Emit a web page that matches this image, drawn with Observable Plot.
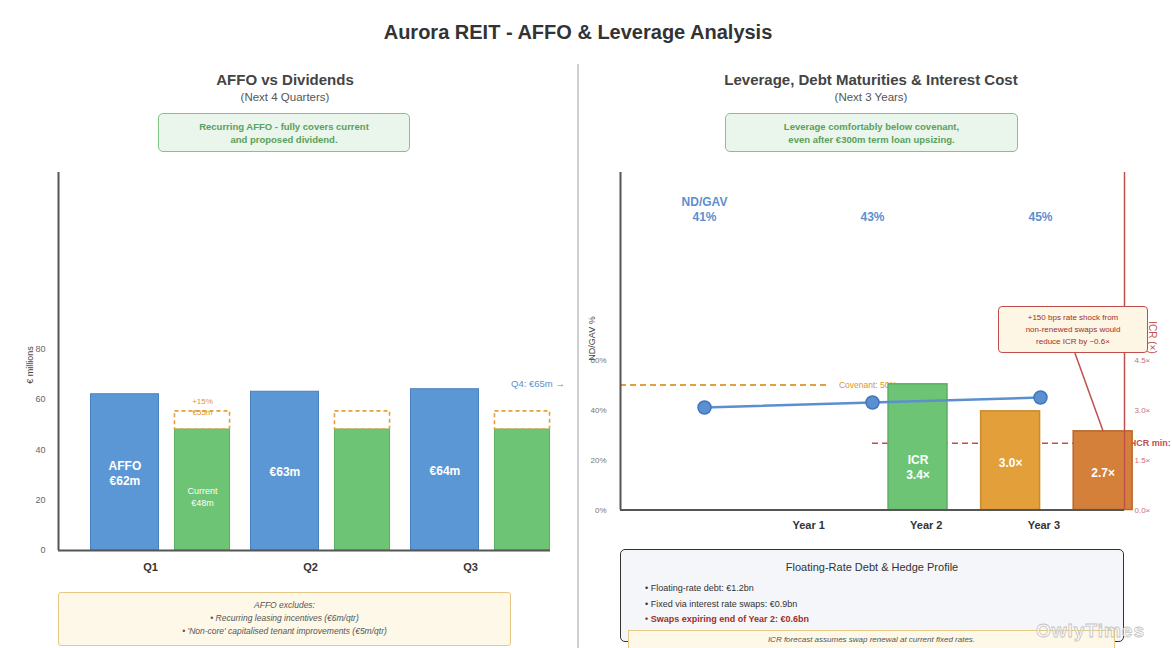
<!DOCTYPE html>
<html><head><meta charset="utf-8">
<script src="https://cdn.jsdelivr.net/npm/d3@7"></script>
<script src="https://cdn.jsdelivr.net/npm/@observablehq/plot@0.6"></script>
<style>
body{margin:0;background:#fff;font-family:"Liberation Sans",Arial,Helvetica,sans-serif;}
#root{position:relative;width:1172px;height:648px;overflow:hidden;background:#fff;}
.abs{position:absolute;box-sizing:border-box;}
.c{text-align:center;}
</style></head>
<body><div id="root">
<div class="abs c" style="left:0;top:20px;width:1156px;font-size:20px;font-weight:bold;color:#333;line-height:24px;">Aurora REIT - AFFO &amp; Leverage Analysis</div>
<div class="abs" style="left:577px;top:64px;width:2px;height:584px;background:#d0d0d0;"></div>

<div class="abs c" style="left:0;top:70px;width:570px;font-size:15px;font-weight:bold;color:#444;line-height:20px;">AFFO vs Dividends</div>
<div class="abs c" style="left:0;top:90px;width:570px;font-size:11.5px;color:#555;line-height:14px;">(Next 4 Quarters)</div>
<div class="abs c" style="left:158px;top:113px;width:252px;height:39px;background:#eaf5eb;border:1.5px solid #80c683;border-radius:5px;color:#5a9f5d;font-size:9.5px;font-weight:bold;line-height:13px;padding-top:6px;">Recurring AFFO - fully covers current<br>and proposed dividend.</div>

<div class="abs c" style="left:580px;top:70px;width:582px;font-size:15px;font-weight:bold;color:#444;line-height:20px;">Leverage, Debt Maturities &amp; Interest Cost</div>
<div class="abs c" style="left:580px;top:90px;width:582px;font-size:11.5px;color:#555;line-height:14px;">(Next 3 Years)</div>
<div class="abs c" style="left:725px;top:113px;width:293px;height:39px;background:#eaf5eb;border:1.5px solid #80c683;border-radius:5px;color:#5a9f5d;font-size:9.5px;font-weight:bold;line-height:13px;padding-top:6px;">Leverage comfortably below covenant,<br>even after €300m term loan upsizing.</div>

<div id="leftChart" class="abs" style="left:0;top:160px;"></div>
<div id="rightChart" class="abs" style="left:580px;top:160px;"></div>

<div id="q4note" class="abs" style="left:511px;top:378px;font-size:9.5px;color:#5b8fd0;line-height:12px;white-space:nowrap;"></div>

<div class="abs c" style="left:58px;top:592px;width:453px;height:54px;background:#fdf8e8;border:1px solid #e6c784;border-radius:3px;color:#555;font-size:8.5px;font-style:italic;line-height:13px;padding-top:6px;">AFFO excludes:<br>• Recurring leasing incentives (€6m/qtr)<br>• 'Non-core' capitalised tenant improvements (€5m/qtr)</div>

<div class="abs c" style="left:998px;top:306px;width:150px;height:47px;background:#fdf6e4;border:1.5px solid #c0504d;border-radius:4px;color:#a0302a;font-size:8px;line-height:12px;padding-top:5px;">+150 bps rate shock from<br>non-renewed swaps would<br>reduce ICR by ~0.6×</div>

<div class="abs" style="left:620px;top:549px;width:504px;height:93px;background:#f4f6f9;border:1.5px solid #333;border-radius:5px;"></div>
<div class="abs c" style="left:620px;top:560px;width:504px;font-size:11px;color:#333;line-height:14px;">Floating-Rate Debt &amp; Hedge Profile</div>
<div class="abs" style="left:645px;top:582px;font-size:9px;color:#333;line-height:12px;">• Floating-rate debt: €1.2bn</div>
<div class="abs" style="left:645px;top:598px;font-size:9px;color:#333;line-height:12px;">• Fixed via interest rate swaps: €0.9bn</div>
<div class="abs" style="left:645px;top:613px;font-size:9px;color:#a0302a;font-weight:bold;line-height:12px;">• Swaps expiring end of Year 2: €0.6bn</div>
<div class="abs c" style="left:628px;top:630px;width:487px;height:30px;background:#fdf8e8;border:1px solid #e6c784;color:#555;font-size:8px;font-style:italic;line-height:12px;padding-top:3px;">ICR forecast assumes swap renewal at current fixed rates.</div>
<div class="abs" style="left:1036px;top:619px;font-size:19px;font-weight:bold;letter-spacing:1px;color:rgba(255,255,255,0.5);-webkit-text-stroke:0.8px #c4c4c4;line-height:24px;">OwlyTimes</div>
</div>
<script>
// ---- Left panel data (€ millions) ----
const quarters = ["Q1", "Q2", "Q3"];
const affo = [62, 63, 64];
const q4Affo = 65;
const currentDividend = [48, 48, 48];
const proposedUplift = 0.15;
const leftTicks = [0, 20, 40, 60, 80];

// ---- Right panel data ----
const years = ["Year 1", "Year 2", "Year 3"];
const ndGav = [41, 43, 45];          // %
const covenant = 50;                 // %
const icrMin = 2.0;                  // ×
const icr = [3.4, 3.0, 2.7];         // × (labels)
const icrBarHeight = [3.77, 2.96, 2.36]; // bar heights read on ICR axis
const pctTicks = [0, 20, 40, 60];
const icrTicks = [0, 1.5, 3.0, 4.5];

const svgStyle = "background:transparent;overflow:visible;font-family:'Liberation Sans',Arial,sans-serif;max-width:none;";

document.getElementById("q4note").textContent = `Q4: €${q4Affo}m →`;

const li = d3.range(quarters.length);
const proposed = i => currentDividend[i] * (1 + proposedUplift);
const leftChart = Plot.plot({
  width: 578, height: 420,
  marginLeft: 58, marginRight: 28, marginTop: 12, marginBottom: 30,
  x: {type: "linear", domain: [-0.575, 2.5], axis: null},
  y: {domain: [0, 150]},
  style: svgStyle,
  marks: [
    Plot.rect(li, {x1: i => i - 0.372, x2: i => i + 0.053, y1: 0, y2: i => affo[i], fill: "#5b97d5", stroke: "#4a80c0", strokeWidth: 1}),
    Plot.rect(li, {x1: i => i + 0.153, x2: i => i + 0.497, y1: 0, y2: i => currentDividend[i], fill: "#6dc474", stroke: "#5cae62", strokeWidth: 1}),
    Plot.rect(li, {x1: i => i + 0.153, x2: i => i + 0.497, y1: i => currentDividend[i], y2: proposed, fill: "none", stroke: "#e3a03f", strokeWidth: 1.6, strokeDasharray: "4,3"}),
    Plot.text(li, {x: i => i - 0.16, y: i => affo[i] / 2, text: i => i === 0 ? `AFFO\n€${affo[i]}m` : `€${affo[i]}m`, fill: "white", fontWeight: "bold", fontSize: 12, lineHeight: 1.25}),
    Plot.text([0], {x: i => i + 0.325, y: i => currentDividend[i] / 2, dy: 6, text: i => `Current\n€${currentDividend[i]}m`, fill: "white", fontSize: 9, fontWeight: 500, lineHeight: 1.35}),
    Plot.text([0], {x: i => i + 0.325, y: proposed, dy: -5.5, text: i => `+${Math.round(proposedUplift * 100)}%\n€${Math.round(proposed(i))}m`, fill: "#d9962c", fontSize: 8, lineHeight: 1.35}),
    Plot.text(quarters, {x: (d, i) => i, frameAnchor: "bottom", dy: 20, text: d => d, fontWeight: "bold", fontSize: 11, fill: "#333"}),
    Plot.ruleX([-0.575], {y1: 0, y2: 150, stroke: "#555", strokeWidth: 2}),
    Plot.ruleY([0], {x1: -0.575, x2: 2.5, stroke: "#555", strokeWidth: 2}),
    Plot.axisY(leftTicks, {tickSize: 0, tickPadding: 13, fontSize: 9, color: "#666", label: null}),
    Plot.text(["€ millions"], {x: -0.575, y: 73.6, dx: -28, rotate: -90, text: d => d, fontSize: 9, fill: "#444"})
  ]
});
document.getElementById("leftChart").append(leftChart);

const K = 20 / 1.5; // ICR units → % axis units
const ri = d3.range(years.length);
const barX = i => 1.271 + 0.551 * i;
const barFill = ["#6dc474", "#e3a03a", "#d4803a"];
const barStroke = ["#5cae62", "#c98b2e", "#b8682c"];
const rightChart = Plot.plot({
  width: 592, height: 380,
  marginLeft: 40, marginRight: 48, marginTop: 12, marginBottom: 30.5,
  x: {type: "linear", domain: [-0.5, 2.5], axis: null},
  y: {domain: [0, 135]},
  style: svgStyle,
  marks: [
    Plot.ruleY([covenant], {x1: -0.5, x2: 0.738, stroke: "#e0a040", strokeWidth: 2, strokeDasharray: "6,4"}),
    Plot.text([covenant], {x: 0.8, y: d => d, text: d => `Covenant: ${d}%`, textAnchor: "start", fill: "#d9962c", fontSize: 8.5}),
    Plot.ruleY([icrMin * K], {x1: 1.0, x2: 2.565, stroke: "#cc4a3f", strokeWidth: 1.5, strokeDasharray: "6,4"}),
    Plot.text([icrMin], {x: 2.555, y: d => d * K, text: d => `ICR min:`, textAnchor: "start", fill: "#c0504d", fontSize: 9, fontWeight: 600}),
    Plot.rect(ri, {x1: i => barX(i) - 0.1755, x2: i => barX(i) + 0.1755, y1: 0, y2: i => icrBarHeight[i] * K, fill: i => barFill[i], stroke: i => barStroke[i], strokeWidth: 1.5}),
    Plot.text([0], {x: barX, y: i => icrBarHeight[i] * K / 2, dy: 19.5, text: i => `ICR\n${icr[i].toFixed(1)}×`, fill: "white", fontWeight: "bold", fontSize: 12, lineHeight: 1.25}),
    Plot.text([1, 2], {x: barX, y: i => icrBarHeight[i] * K / 2, dy: 2, text: i => `${icr[i].toFixed(1)}×`, fill: "white", fontWeight: "bold", fontSize: 12}),
    Plot.line(ndGav, {x: (d, i) => i, y: d => d, stroke: "#5b8fd0", strokeWidth: 2.5}),
    Plot.dot(ndGav, {x: (d, i) => i, y: d => d, r: 6.5, fill: "#5b8fd0", stroke: "#4176bd", strokeWidth: 1.5}),
    Plot.text(ndGav, {x: (d, i) => i, frameAnchor: "top", dy: 40, text: d => `${d}%`, fill: "#5b8fd0", fontWeight: "bold", fontSize: 12}),
    Plot.text(["ND/GAV"], {x: 0, frameAnchor: "top", dy: 25, text: d => d, fill: "#5b8fd0", fontWeight: "bold", fontSize: 12}),
    Plot.text(years, {x: (d, i) => 0.62 + 0.7 * i, frameAnchor: "bottom", dy: 18.5, text: d => d, fontWeight: "bold", fontSize: 11, fill: "#333"}),
    Plot.ruleX([-0.5], {y1: 0, y2: 135, stroke: "#555", strokeWidth: 2}),
    Plot.ruleY([0], {x1: -0.5, x2: 2.5, stroke: "#555", strokeWidth: 2}),
    Plot.ruleX([2.5], {y1: 0, y2: 135, stroke: "#c0504d", strokeWidth: 1.5}),
    Plot.link([2], {x1: i => barX(i) - 0.18, y1: 65, x2: barX, y2: i => icrBarHeight[i] * K, stroke: "#c0504d", strokeWidth: 1.5}),
    Plot.axisY(pctTicks, {anchor: "left", tickSize: 0, tickPadding: 14, tickFormat: d => d + "%", fontSize: 8, color: "#777", label: null}),
    Plot.axisY(icrTicks.map(t => t * K), {anchor: "right", tickSize: 0, tickPadding: 10, tickFormat: d => (d / K).toFixed(1) + "×", fontSize: 8, color: "#c8706a", label: null}),
    Plot.text(["ND/GAV %"], {x: -0.5, y: 68.6, dx: -28, rotate: -90, text: d => d, fontSize: 9, fill: "#444"}),
    Plot.text(["ICR (×)"], {x: 2.5, y: 69, dx: 28, rotate: 90, text: d => d, fontSize: 10, fill: "#c0504d"})
  ]
});
document.getElementById("rightChart").append(rightChart);
</script>
</body></html>
